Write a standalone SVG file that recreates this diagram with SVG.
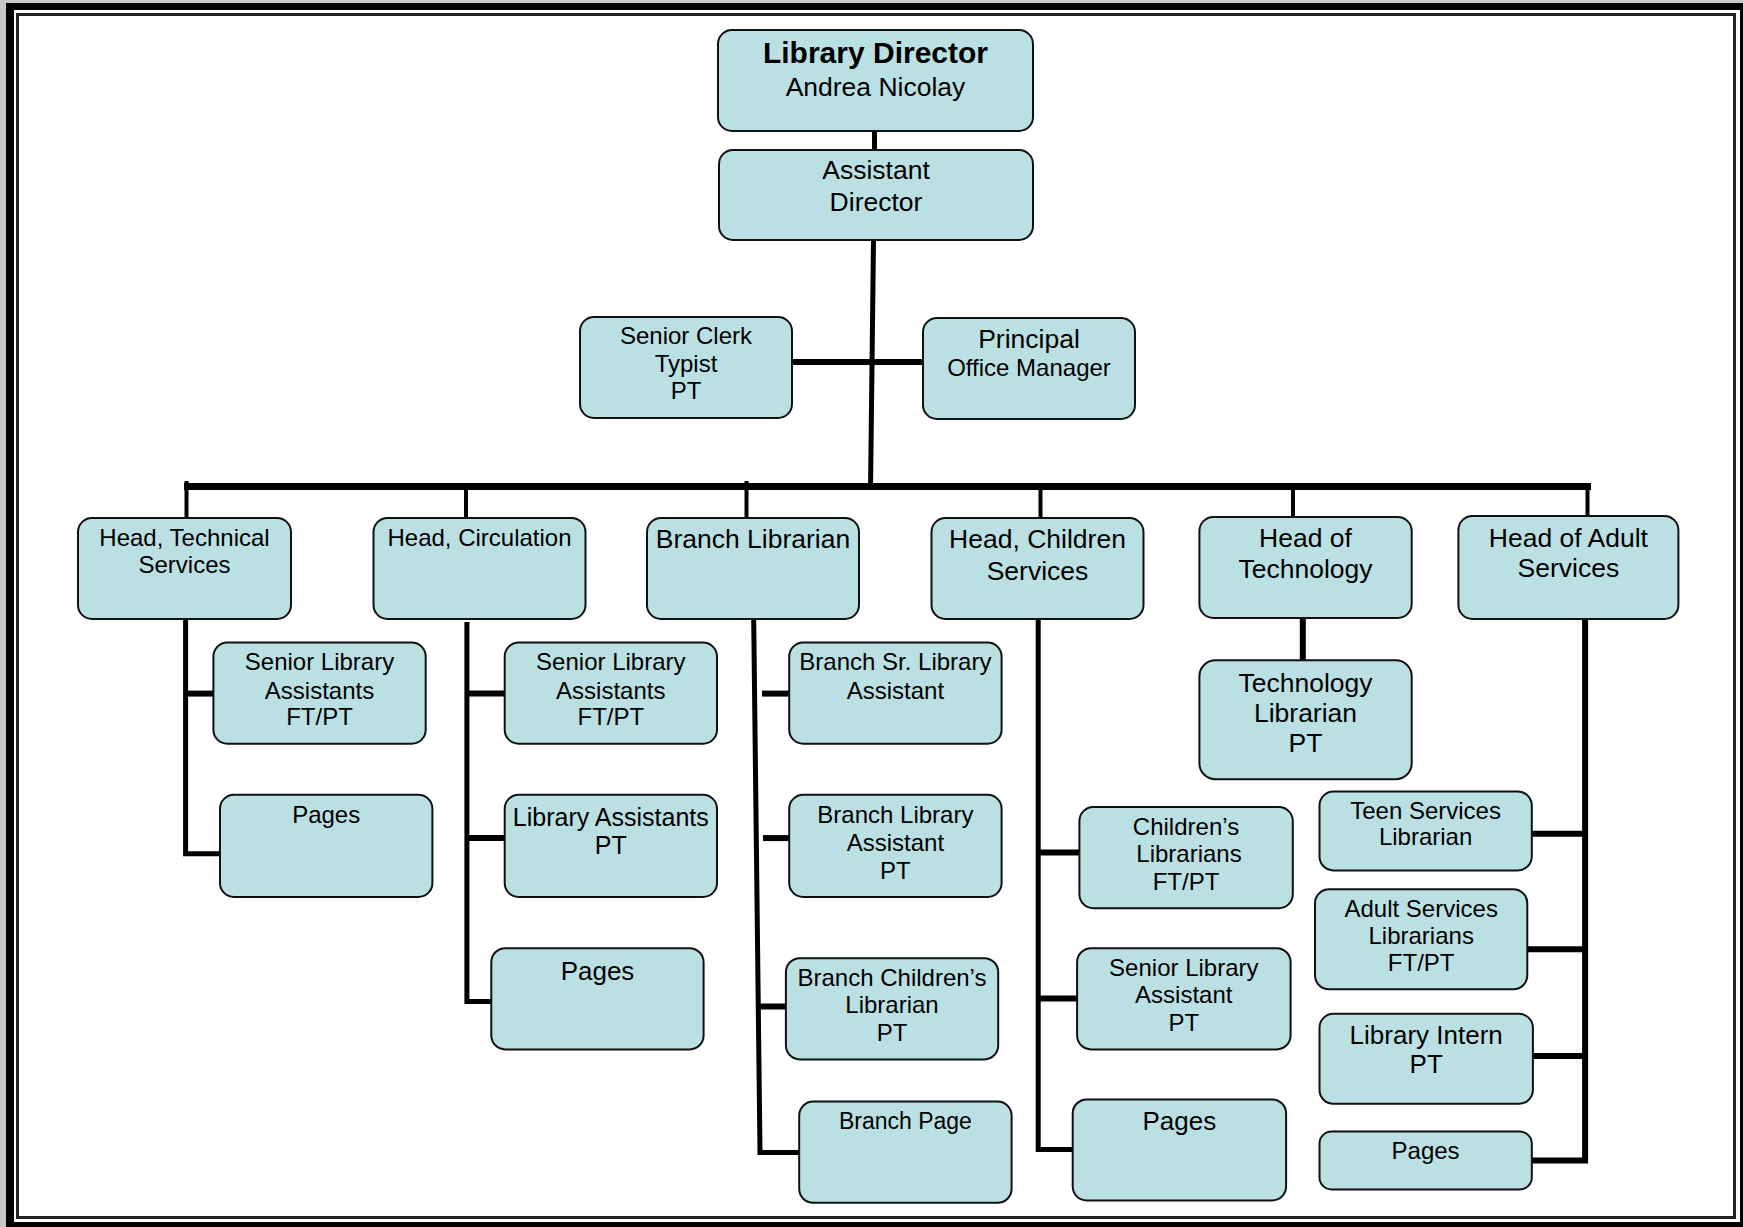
<svg xmlns="http://www.w3.org/2000/svg" width="1743" height="1227" viewBox="0 0 1743 1227">
<style>
.box{fill:#bbe0e3;stroke:#111;stroke-width:2}
text{font-family:"Liberation Sans",Arial,sans-serif;font-size:24px;fill:#000;text-anchor:middle}
.lg{font-size:26.5px}
.b{font-weight:bold;font-size:30px}
.c{stroke:#000;fill:none;stroke-linecap:butt}
.w4{stroke-width:4}
.w5{stroke-width:5}
.w6{stroke-width:6}
.w7{stroke-width:7}
</style>
<rect x="0" y="0" width="1743" height="1227" fill="#c8c8c8"/>
<rect x="6" y="3" width="1737" height="1224" fill="#000"/>
<rect x="14" y="10" width="1726" height="1212" fill="#fff"/>
<rect x="17.5" y="14.5" width="1717" height="1203" fill="#fff" stroke="#222" stroke-width="3"/>

<g id="connectors">
<line class="c w5" x1="874.5" y1="131" x2="874.5" y2="151"/>
<line class="c w5" x1="873.5" y1="240" x2="870.5" y2="490"/>
<line class="c w6" x1="792" y1="362" x2="923" y2="362"/>
<line class="c w7" x1="184" y1="486.5" x2="1591" y2="486.5"/>
<line class="c w4" x1="186.5" y1="481" x2="186.5" y2="518"/>
<line class="c w4" x1="466" y1="486" x2="466" y2="518"/>
<line class="c w4" x1="746.5" y1="481" x2="746.5" y2="518"/>
<line class="c w4" x1="1040.5" y1="486" x2="1040.5" y2="518"/>
<line class="c w4" x1="1293" y1="486" x2="1293" y2="517"/>
<line class="c w4" x1="1587.5" y1="486" x2="1587.5" y2="516"/>
<!-- col1 -->
<polyline class="c w5" points="185.6,619 185.6,853.7 220,853.7"/>
<line class="c w6" x1="185.6" y1="693.6" x2="213" y2="693.6"/>
<!-- col2 -->
<polyline class="c w5" points="466.9,622 466.9,1001.6 491.3,1001.6"/>
<line class="c w6" x1="466.9" y1="693.6" x2="505" y2="693.6"/>
<line class="c w6" x1="466.9" y1="838.1" x2="505" y2="838.1"/>
<!-- col3 -->
<polyline class="c w5" points="753.7,619 760,1152.5 799.2,1152.5"/>
<line class="c w6" x1="762" y1="693.6" x2="789.2" y2="693.6"/>
<line class="c w6" x1="763" y1="838.1" x2="789.2" y2="838.1"/>
<line class="c w6" x1="758.5" y1="1006.5" x2="786" y2="1006.5"/>
<!-- col4 -->
<polyline class="c w5" points="1038.2,619 1038.2,1149.5 1072.7,1149.5"/>
<line class="c w6" x1="1038.2" y1="852.6" x2="1079.4" y2="852.6"/>
<line class="c w6" x1="1038.2" y1="998.5" x2="1077.1" y2="998.5"/>
<!-- col5 -->
<line class="c w6" x1="1302.8" y1="618" x2="1302.8" y2="660.3"/>
<!-- col6 -->
<polyline class="c w6" points="1585.1,619 1585.1,1160.5 1531.8,1160.5"/>
<line class="c w6" x1="1585.1" y1="833.7" x2="1531.8" y2="833.7"/>
<line class="c w6" x1="1585.1" y1="949.3" x2="1527.3" y2="949.3"/>
<line class="c w6" x1="1585.1" y1="1056" x2="1532.9" y2="1056"/>
</g>

<g id="library-director"><rect class="box" x="718" y="30" width="315" height="101" rx="14"/><text class="b" x="875.5" y="62.7">Library Director</text><text class="lg" x="875.5" y="96">Andrea Nicolay</text></g>
<g id="assistant-director"><rect class="box" x="719" y="150" width="314" height="90" rx="14"/><text class="lg" x="876" y="179.3">Assistant</text><text class="lg" x="876" y="210.5">Director</text></g>
<g id="senior-clerk"><rect class="box" x="580" y="317" width="212" height="101" rx="14"/><text x="686" y="344.1">Senior Clerk</text><text x="686" y="371.9">Typist</text><text x="686" y="398.6">PT</text></g>
<g id="principal-office-manager"><rect class="box" x="923" y="318" width="212" height="101" rx="14"/><text class="lg" x="1029" y="348.3">Principal</text><text x="1029" y="376.4">Office Manager</text></g>

<g id="head-technical"><rect class="box" x="78" y="518" width="213" height="101" rx="14"/><text x="184.5" y="546.4">Head, Technical</text><text x="184.5" y="573.1">Services</text></g>
<g id="head-circulation"><rect class="box" x="373.5" y="518" width="212" height="101" rx="14"/><text x="479.5" y="546.4">Head, Circulation</text></g>
<g id="branch-librarian"><rect class="box" x="647" y="518" width="212" height="101" rx="14"/><text class="lg" x="753" y="548.4">Branch Librarian</text></g>
<g id="head-children"><rect class="box" x="931.5" y="518" width="212" height="101" rx="14"/><text class="lg" x="1037.5" y="548.4">Head, Children</text><text class="lg" x="1037.5" y="579.6">Services</text></g>
<g id="head-technology"><rect class="box" x="1199.4" y="517" width="212.3" height="101" rx="14"/><text class="lg" x="1305.5" y="547.3">Head of</text><text class="lg" x="1305.5" y="578.4">Technology</text></g>
<g id="head-adult"><rect class="box" x="1458.4" y="516" width="220" height="103" rx="14"/><text class="lg" x="1568.4" y="547.3">Head of Adult</text><text class="lg" x="1568.4" y="577.3">Services</text></g>

<g id="tech-senior-assistants"><rect class="box" x="213.4" y="642.5" width="212.3" height="101.2" rx="14"/><text x="319.5" y="669.8">Senior Library</text><text x="319.5" y="698.7">Assistants</text><text x="319.5" y="725.4">FT/PT</text></g>
<g id="tech-pages"><rect class="box" x="220" y="794.8" width="212.4" height="102.2" rx="14"/><text x="326.2" y="823.2">Pages</text></g>

<g id="circ-senior-assistants"><rect class="box" x="504.7" y="642.5" width="212.3" height="101.2" rx="14"/><text x="610.8" y="669.8">Senior Library</text><text x="610.8" y="698.7">Assistants</text><text x="610.8" y="725.4">FT/PT</text></g>
<g id="circ-library-assistants"><rect class="box" x="504.7" y="794.8" width="212.3" height="102.2" rx="14"/><text x="610.8" y="825.8" style="font-size:25px">Library Assistants</text><text x="610.8" y="853.6" style="font-size:25px">PT</text></g>
<g id="circ-pages"><rect class="box" x="491.3" y="948.2" width="212.3" height="101.2" rx="14"/><text x="597.5" y="979.5" style="font-size:26px">Pages</text></g>

<g id="branch-sr-assistant"><rect class="box" x="789.2" y="642.5" width="212.4" height="101.2" rx="14"/><text x="895.4" y="669.8">Branch Sr. Library</text><text x="895.4" y="698.7">Assistant</text></g>
<g id="branch-assistant"><rect class="box" x="789.2" y="794.8" width="212.4" height="102.2" rx="14"/><text x="895.4" y="823.2">Branch Library</text><text x="895.4" y="851">Assistant</text><text x="895.4" y="878.8">PT</text></g>
<g id="branch-childrens-librarian"><rect class="box" x="785.9" y="958.2" width="212.3" height="101.2" rx="14"/><text x="892" y="985.5">Branch Children’s</text><text x="892" y="1013.3">Librarian</text><text x="892" y="1041.1">PT</text></g>
<g id="branch-page"><rect class="box" x="799.2" y="1101.6" width="212.4" height="101.2" rx="14"/><text x="905.4" y="1128.5" style="font-size:23px">Branch Page</text></g>

<g id="childrens-librarians"><rect class="box" x="1079.4" y="807" width="213.4" height="101.2" rx="14"/><text x="1186" y="835.4">Children’s</text><text x="1189" y="862.1">Librarians</text><text x="1186" y="889.9">FT/PT</text></g>
<g id="children-senior-assistant"><rect class="box" x="1077.1" y="948.2" width="213.5" height="101.2" rx="14"/><text x="1183.8" y="975.5">Senior Library</text><text x="1183.8" y="1003.3">Assistant</text><text x="1183.8" y="1031.1">PT</text></g>
<g id="children-pages"><rect class="box" x="1072.7" y="1099.4" width="213.4" height="101.1" rx="14"/><text x="1179.4" y="1129.6" style="font-size:26px">Pages</text></g>

<g id="technology-librarian"><rect class="box" x="1199.4" y="660.3" width="212.3" height="118.9" rx="16"/><text class="lg" x="1305.5" y="691.8">Technology</text><text class="lg" x="1305.5" y="721.8">Librarian</text><text class="lg" x="1305.5" y="751.8">PT</text></g>

<g id="teen-services"><rect class="box" x="1319.5" y="791.5" width="212.3" height="78.9" rx="14"/><text x="1425.6" y="818.8">Teen Services</text><text x="1425.6" y="845.4">Librarian</text></g>
<g id="adult-services"><rect class="box" x="1315" y="889.3" width="212.3" height="100" rx="14"/><text x="1421.2" y="916.6">Adult Services</text><text x="1421.2" y="944.4">Librarians</text><text x="1421.2" y="971">FT/PT</text></g>
<g id="library-intern"><rect class="box" x="1319.5" y="1013.8" width="213.4" height="90" rx="14"/><text x="1426.2" y="1044" style="font-size:26px">Library Intern</text><text x="1426.2" y="1072.9" style="font-size:26px">PT</text></g>
<g id="adult-pages"><rect class="box" x="1319.5" y="1131.6" width="212.3" height="57.8" rx="12"/><text x="1425.6" y="1158.9">Pages</text></g>
</svg>
